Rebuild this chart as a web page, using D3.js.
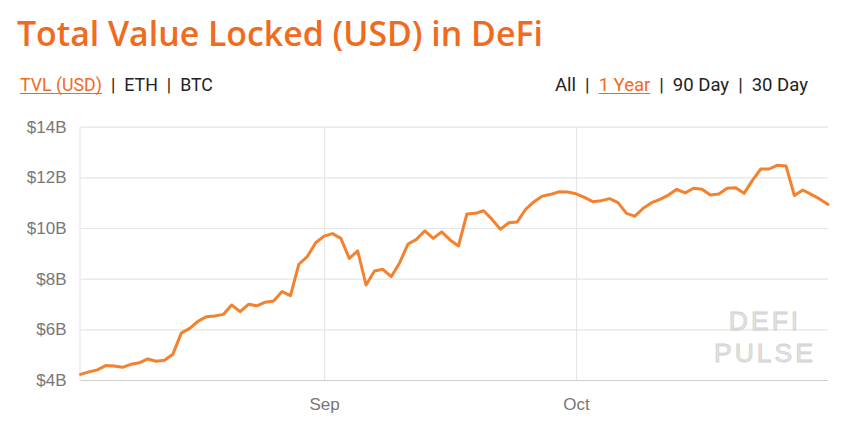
<!DOCTYPE html>
<html>
<head>
<meta charset="utf-8">
<script src="https://cdn.jsdelivr.net/npm/d3@7"></script>
<style>
  html, body { margin: 0; padding: 0; background: #fff; }
  svg { display: block; }
</style>
</head>
<body>
<svg id="chart" width="846" height="426"></svg>
<script>
// ---------- data ----------
const startDate = "2020-08-03";
const tvlBillions = [
  4.22, 4.32, 4.40, 4.57, 4.55, 4.50, 4.62, 4.68, 4.83, 4.74,
  4.78, 5.02, 5.85, 6.04, 6.32, 6.50, 6.53, 6.59, 6.96, 6.70,
  6.99, 6.93, 7.07, 7.12, 7.49, 7.33, 8.57, 8.87, 9.42,
  9.68, 9.78, 9.59, 8.80, 9.10, 7.75, 8.30, 8.37, 8.08, 8.63,
  9.37, 9.55, 9.89, 9.59, 9.85, 9.53, 9.29, 10.55, 10.58, 10.68,
  10.34, 9.95, 10.21, 10.24, 10.74, 11.04, 11.26, 11.33, 11.43, 11.42,
  11.35, 11.21, 11.04, 11.08, 11.16, 11.00, 10.58, 10.47, 10.78, 11.00,
  11.13, 11.30, 11.53, 11.39, 11.57, 11.53, 11.30, 11.34, 11.57, 11.59,
  11.37, 11.88, 12.33, 12.33, 12.48, 12.45, 11.28, 11.50, 11.33, 11.15,
  10.93
];
const yTickValues = [4, 6, 8, 10, 12, 14];
const xTickDates = ["2020-09-01", "2020-10-01"];
const xTickLabels = ["Sep", "Oct"];
const titleText = "Total Value Locked (USD) in DeFi";
const leftLinks = ["TVL (USD)", "ETH", "BTC"];
const rightLinks = ["All", "1 Year", "90 Day", "30 Day"];
const activeLeft = "TVL (USD)";
const activeRight = "1 Year";
const watermark = ["DEFI", "PULSE"];

// ---------- setup ----------
const parse = d3.utcParse("%Y-%m-%d");
const t0 = parse(startDate);
const data = tvlBillions.map((v, i) => ({ date: d3.utcDay.offset(t0, i), value: v }));

const svg = d3.select("#chart");
const ORANGE_TITLE = "#f06b1e";
const ORANGE_LINE = "#f3812e";
const DARK = "#222";

const plot = { left: 80.5, right: 828, top: 126.7, bottom: 380 };

const x = d3.scaleUtc()
  .domain(d3.extent(data, d => d.date))
  .range([plot.left, plot.right]);
const y = d3.scaleLinear()
  .domain([4, 14])
  .range([plot.bottom, plot.top]);

// ---------- title ----------
function fitText(sel, target) {
  let fs = parseFloat(sel.attr("font-size"));
  for (let k = 0; k < 3; k++) {
    const w = sel.node().getComputedTextLength();
    fs = fs * target / w;
    sel.attr("font-size", fs);
  }
}
const title = svg.append("text")
  .attr("x", 17).attr("y", 46)
  .attr("font-family", "'Open Sans', sans-serif")
  .attr("font-weight", 600)
  .attr("font-size", 30)
  .attr("fill", ORANGE_TITLE)
  .text(titleText);
fitText(title, 526);

// ---------- link rows ----------
function linkRow(items, active, x0, target, baseline, gap) {
  const g = svg.append("g");
  let fs = 17;
  function layout() {
    g.selectAll("*").remove();
    let cx = x0;
    const segs = [];
    items.forEach((it, i) => {
      if (i > 0) {
        cx += gap;
        const sep = g.append("text").attr("x", cx).attr("y", baseline)
          .attr("font-family", "Roboto, sans-serif").attr("font-size", fs)
          .attr("fill", DARK).text("|");
        cx += sep.node().getComputedTextLength() + gap;
      }
      const t = g.append("text").attr("x", cx).attr("y", baseline)
        .attr("font-family", "Roboto, sans-serif").attr("font-size", fs)
        .attr("fill", it === active ? ORANGE_TITLE : DARK).text(it);
      const w = t.node().getComputedTextLength();
      if (it === active) segs.push([cx, cx + w]);
      cx += w;
    });
    return { width: cx - x0, segs };
  }
  let r = layout();
  for (let k = 0; k < 4; k++) {
    const fixed = gap * 2 * (items.length - 1);
    fs = fs * (target - fixed) / (r.width - fixed);
    r = layout();
  }
  r.segs.forEach(([a, b]) => {
    g.append("line").attr("x1", a).attr("x2", b)
      .attr("y1", baseline + 2.5).attr("y2", baseline + 2.5)
      .attr("stroke", ORANGE_TITLE).attr("stroke-width", 1);
  });
}
linkRow(leftLinks, activeLeft, 20, 193, 91, 9);
linkRow(rightLinks, activeRight, 555, 253, 91, 9);

// ---------- grid & axes ----------
const yAxis = d3.axisLeft(y)
  .tickValues(yTickValues)
  .tickSize(-(plot.right - plot.left))
  .tickPadding(14)
  .tickFormat(d => `$${d}B`);
const gy = svg.append("g").attr("transform", `translate(${plot.left},0)`).call(yAxis);
gy.select(".domain").remove();
gy.selectAll(".tick line").attr("stroke", "#e6e6e6").attr("stroke-width", 1.2)
  .filter(d => d === 4).attr("stroke", "#cfcfcf");
gy.selectAll(".tick text")
  .attr("font-family", "'Liberation Sans', Arial, sans-serif")
  .attr("font-size", 17).attr("fill", "#777");

const xAxis = d3.axisBottom(x)
  .tickValues(xTickDates.map(parse))
  .tickSize(-(plot.bottom - plot.top))
  .tickPadding(18)
  .tickFormat((d, i) => xTickLabels[i]);
const gx = svg.append("g").attr("transform", `translate(0,${plot.bottom})`).call(xAxis);
gx.select(".domain").remove();
gx.selectAll(".tick line").attr("stroke", "#e6e6e6").attr("stroke-width", 1.2);
gx.selectAll(".tick text")
  .attr("font-family", "'Liberation Sans', Arial, sans-serif")
  .attr("font-size", 17).attr("fill", "#777");

// left vertical edge
svg.append("line")
  .attr("x1", plot.left - 0.5).attr("x2", plot.left - 0.5)
  .attr("y1", y(14)).attr("y2", y(4))
  .attr("stroke", "#e6e6e6").attr("stroke-width", 1.2);

// ---------- watermark ----------
const wm = svg.append("g");
[[watermark[0], 330], [watermark[1], 362]].forEach(([txt, base]) => {
  wm.append("text")
    .attr("x", 765).attr("y", base)
    .attr("text-anchor", "middle")
    .attr("font-family", "'Liberation Sans', Arial, sans-serif")
    .attr("font-size", 26.5)
    .attr("letter-spacing", 3)
    .attr("fill", "#e4e4e4")
    .attr("stroke", "#d0d0d0").attr("stroke-width", 0.8)
    .text(txt);
});

// ---------- line ----------
const line = d3.line().x(d => x(d.date)).y(d => y(d.value));
svg.append("path")
  .datum(data)
  .attr("d", line)
  .attr("fill", "none")
  .attr("stroke", ORANGE_LINE)
  .attr("stroke-width", 3)
  .attr("stroke-linejoin", "round")
  .attr("stroke-linecap", "round");
</script>
</body>
</html>
